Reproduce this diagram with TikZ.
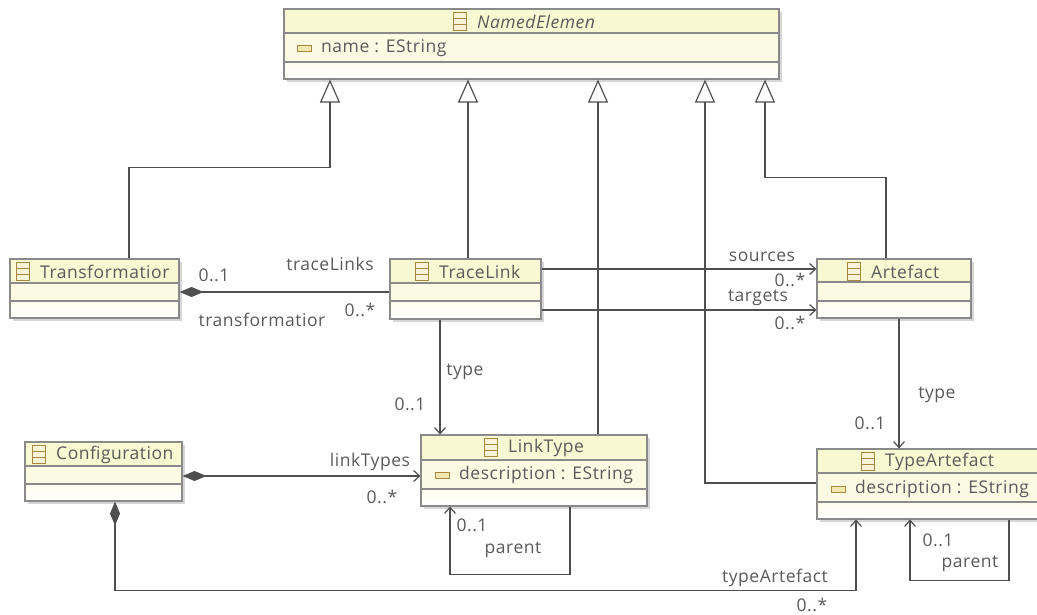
\documentclass[tikz,border=0pt]{standalone}
\usepackage{fontspec}
\setmainfont[LetterSpace=3]{Open Sans}
\usetikzlibrary{arrows.meta}
\definecolor{boxline}{HTML}{8A8A8A}
\definecolor{wireline}{HTML}{4F4F4F}
\definecolor{labeltext}{HTML}{5A5A5A}
\definecolor{titlefill}{HTML}{F8F8D2}
\definecolor{attrfill}{HTML}{FBFBE4}
\definecolor{opsfill}{HTML}{FDFDEE}
\definecolor{iconline}{HTML}{A8873F}
\definecolor{iconfill}{HTML}{F3E7B0}
\tikzset{
  classnode/.style={draw=boxline, line width=1.1pt, inner sep=0pt},
  titletext/.style={anchor=west, inner sep=0pt, text=labeltext, font=\fontsize{17.5}{19}\selectfont},
  wirelabel/.style={inner sep=0pt, text=labeltext, font=\fontsize{17.5}{19}\selectfont},
  wire/.style={draw=wireline, line width=1.2pt},
  gen/.style={wire, -{Triangle[open, length=23pt, width=20pt, line width=1.2pt]}},
  ref/.style={wire, -{Straight Barb[length=6pt, width=11pt, line width=1.2pt]}},
  comp/.style={wire, {Diamond[length=24pt, width=10pt]}-{Straight Barb[length=6pt, width=11pt, line width=1.2pt]}},
}
% id, left, right, top, title bottom, attr bottom, bottom, icon x, title
\newcommand{\classbox}[9]{
  \def\titlename{#9}
  \classboxrest{#1}{#2}{#3}{#4}{#5}{#6}{#7}{#8}
}
\newcommand{\classboxrest}[8]{
  \fill [black, opacity=0.16] (#2+3,#4+3) rectangle (#3+3,#7+3);
  \fill [titlefill] (#2,#4) rectangle (#3,#5);
  \fill [attrfill] (#2,#5) rectangle (#3,#6);
  \shade [top color=opsfill, bottom color=white] (#2,#6) rectangle (#3,#7);
  \draw [boxline, line width=1.1pt] (#2,#5) -- (#3,#5);
  \draw [boxline, line width=1.1pt] (#2,#6) -- (#3,#6);
  \node (#1) [classnode, minimum width={(#3-#2)*1pt}, minimum height={(#7-#4)*1pt}] at ({(#2+#3)/2},{(#4+#7)/2}) {};
  \draw [iconline, fill=iconfill!50, line width=0.8pt] (#8,#4+3) rectangle (#8+13,#4+21);
  \draw [iconline, line width=0.8pt] (#8,#4+9) -- (#8+13,#4+9) (#8,#4+15) -- (#8+13,#4+15);
  \node (#1title) [titletext] at (#8+24,#4+12.5) {\titlename};
}
% id, icon x, y, text
\newcommand{\classattr}[4]{
  \draw [iconline, fill=iconfill, line width=0.8pt] (#2,#3-3) rectangle (#2+14,#3+3);
  \node (#1) [titletext] at (#2+24,#3) {#4};
}
\begin{document}
\begin{tikzpicture}[x=1pt, y=-1pt]
    \useasboundingbox (0,0) rectangle (1037,615);
    \clip (0,0) rectangle (1037,615);

    \fill [white] (0,0) rectangle (1037,615);

    % classes
    \classbox{named}{284}{779}{9}{33}{62}{79}{453}{\textit{NamedElemen}}
    \classattr{namedattr}{297}{48}{name : EString}
    \classbox{transformation}{10}{179}{259}{283}{301}{318}{16}{Transformatior}
    \classbox{tracelink}{390}{541}{259}{283}{301}{319}{415}{TraceLink}
    \classbox{artefact}{817}{971}{259}{282}{301}{318}{847}{Artefact}
    \classbox{linktype}{421}{647}{435}{460}{489}{506}{484}{LinkType}
    \classattr{linkattr}{435}{475}{description : EString}
    \classbox{typeartefact}{817}{1045}{449}{473}{502}{519}{861}{TypeArtefact}
    \classattr{typeattr}{831}{489}{description : EString}
    \classbox{configuration}{25}{182}{442}{466}{484}{501}{32}{Configuration}

    % generalisations
    \draw [gen] ([xshift=34.5pt]transformation.north) -- ++(0,-91) -| ([xshift=-201.5pt]named.south);
    \draw [gen] ([xshift=2.5pt]tracelink.north) -- ([xshift=-63.5pt]named.south);
    \draw [gen] ([xshift=64pt]linktype.north) -- ([xshift=66.5pt]named.south);
    \draw [gen] ([yshift=1pt]typeartefact.west) -| ([xshift=173.5pt]named.south);
    \draw [gen] ([xshift=-8pt]artefact.north) -- ++(0,-81) -| ([xshift=233.5pt]named.south);

    % references
    \draw [wire, {Diamond[length=24pt, width=10pt]}-] ([yshift=-3.5pt]transformation.east) -- ([yshift=-3pt]tracelink.west);
    \draw [comp] ([yshift=-4.5pt]configuration.east) -- ([yshift=-5.5pt]linktype.west);
    \draw [comp] ([xshift=11.5pt]configuration.south) -- ++(0,89) -| ([xshift=-75pt]typeartefact.south);
    \draw [ref] ([yshift=20pt]tracelink.east) -- ([yshift=19.5pt]artefact.west);
    \draw [ref] ([yshift=-21pt]tracelink.east) -- ([yshift=-21.5pt]artefact.west);
    \draw [ref] ([xshift=-25.5pt]tracelink.south) -- ([xshift=-94pt]linktype.north);
    \draw [ref] ([xshift=5pt]artefact.south) -- ([xshift=-32pt]typeartefact.north);
    \draw [ref] ([xshift=36pt]linktype.south) -- ++(0,68) -| ([xshift=-84pt]linktype.south);
    \draw [ref] ([xshift=78pt]typeartefact.south) -- ++(0,61) -| ([xshift=-21pt]typeartefact.south);

    % labels
    \node (lbltracelinks) [wirelabel] at (330,264) {traceLinks};
    \node (lbltransone) [wirelabel] at (214,275) {0..1};
    \node (lbltransformation) [wirelabel] at (262,320) {transformatior};
    \node (lbltracemany) [wirelabel] at (360,310) {0..*};
    \node (lblsources) [wirelabel] at (762,257) {sources};
    \node (lblsourcesmany) [wirelabel] at (790,280) {0..*};
    \node (lbltargets) [wirelabel] at (758,298) {targets};
    \node (lbltargetsmany) [wirelabel] at (790,323) {0..*};
    \node (lbllinktype) [wirelabel] at (465,372) {type};
    \node (lbllinkone) [wirelabel] at (410,404) {0..1};
    \node (lbllinktypes) [wirelabel] at (370,462) {linkTypes};
    \node (lbllinktypesmany) [wirelabel] at (382,497) {0..*};
    \node (lbltype) [wirelabel] at (937,395) {type};
    \node (lbltypeone) [wirelabel] at (870,423) {0..1};
    \node (lbltypeartefact) [wirelabel] at (775,578) {typeArtefact};
    \node (lbltypemany) [wirelabel] at (812,605) {0..*};
    \node (lblparentone) [wirelabel] at (472,525) {0..1};
    \node (lblparent) [wirelabel] at (513,550) {parent};
    \node (lbltypeparentone) [wirelabel] at (938,540) {0..1};
    \node (lbltypeparent) [wirelabel] at (970,564) {parent};
\end{tikzpicture}
\end{document}
